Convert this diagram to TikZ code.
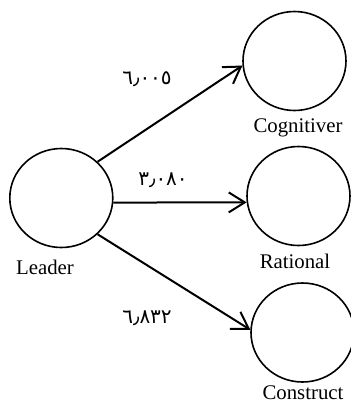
\documentclass[tikz,border=0pt]{standalone}
\usepackage{fontspec}
\setmainfont{Liberation Serif}
\newfontfamily\arabicfont[Script=Arabic]{DejaVu Sans}
\usetikzlibrary{shapes.geometric,arrows.meta}

\begin{document}
\begin{tikzpicture}[x=0.5pt,y=-0.5pt,
		circ/.style={draw, ellipse, line width=0.8pt, minimum width=51.5pt, minimum height=49.5pt, inner sep=0pt},
		lbl/.style={font=\fontsize{10.4}{12}\selectfont},
		num/.style={font=\arabicfont\fontsize{10}{12}\selectfont},
		arr/.style={line width=1pt, -{Straight Barb[length=8pt,width=10pt,line width=1pt]}}]
		\useasboundingbox (0,0) rectangle (350,403);

		\node[circ] (leader) at (61.3,198) {};
		\node[circ] (cog) at (294.5,61) {};
		\node[circ] (rat) at (298.5,196) {};
		\node[circ] (con) at (302.5,332.5) {};

		\node[lbl] (leaderlbl) at (45,267) {Leader};
		\node[lbl] (coglbl) at (298,128) {Cognitiver};
		\node[lbl] (ratlbl) at (295,261) {Rational};
		\node[lbl] (conlbl) at (303,393) {Construct};

		\draw[arr] (leader.45) -- (cog.185);
		\draw[arr] (leader.-5) -- (rat.187);
		\draw[arr] (leader.-45) -- (con.177);

		\node[num] (w1) at (147,79) {٦٫٠٠٥};
		\node[num] (w2) at (163,180) {٣٫٠٨٠};
		\node[num] (w3) at (147,318) {٦٫٨٣٢};
	\end{tikzpicture}
\end{document}
